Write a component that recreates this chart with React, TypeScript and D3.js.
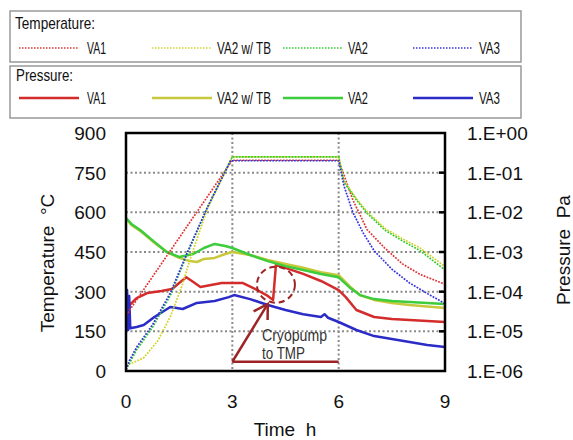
import React from 'react';
import * as d3 from 'd3';

// time in h, temperature in °C
const tempVA1 = [[0, 210], [3, 797], [6, 797], [6.1, 760], [6.4, 647], [6.8, 535], [7.3, 465], [7.8, 405], [8.3, 365], [9, 328]];
const tempVA2TB = [[0, 20], [0.5, 50], [0.9, 115], [1.25, 205], [1.6, 330], [1.8, 420], [2.3, 615], [3, 810], [6, 810], [6.15, 718], [6.5, 652], [6.8, 603], [7.3, 540], [7.8, 500], [8.3, 465], [9, 395]];
const tempVA2 = [[0, 5], [0.1, 30], [0.3, 80], [0.75, 165], [1.25, 285], [1.75, 450], [2.3, 620], [3, 810], [6, 810], [6.15, 715], [6.5, 647], [6.8, 597], [7.3, 533], [7.8, 492], [8.3, 455], [9, 382]];
const tempVA3 = [[0, 5], [0.1, 40], [0.3, 90], [0.75, 175], [1.25, 295], [1.75, 455], [2.3, 620], [2.95, 795], [6, 795], [6.15, 700], [6.4, 600], [6.7, 520], [7, 455], [7.5, 385], [8, 333], [8.5, 293], [9, 255]];

// time in h, pressure in Pa
const presVA1 = [[0, 1.9e-5], [0.03, 5.2e-5], [0.06, 2.6e-5], [0.1, 4.6e-5], [0.3, 6.9e-5], [0.6, 9.2e-5], [1, 1.04e-4], [1.3, 1.17e-4], [1.5, 1.65e-4], [1.7, 2.3e-4], [1.9, 1.75e-4], [2.1, 1.31e-4], [2.4, 1.47e-4], [2.7, 1.65e-4], [3, 1.65e-4], [3.3, 1.65e-4], [3.7, 1.1e-4], [4, 7.8e-5], [4.15, 6.2e-5], [4.23, 4.7e-4], [4.6, 3.7e-4], [5, 2.8e-4], [5.5, 1.86e-4], [6, 1.1e-4], [6.2, 7.3e-5], [6.5, 3.45e-5], [7, 2.3e-5], [7.5, 2.05e-5], [8, 1.93e-5], [8.5, 1.82e-5], [9, 1.72e-5]];
const presVA2TB = [[0, 7.2e-3], [0.15, 4.8e-3], [0.4, 3.4e-3], [0.8, 1.7e-3], [1.15, 1.0e-3], [1.5, 7.1e-4], [1.8, 5.9e-4], [2, 5.6e-4], [2.2, 6.7e-4], [2.5, 7.1e-4], [2.8, 8.9e-4], [3, 1.0e-3], [3.5, 8.4e-4], [4, 6.3e-4], [4.5, 5.0e-4], [5, 4.0e-4], [5.5, 3.1e-4], [6, 2.6e-4], [6.3, 1.39e-4], [6.6, 8.2e-5], [7, 6.2e-5], [7.5, 5.2e-5], [8, 4.6e-5], [8.5, 4.2e-5], [9, 3.9e-5]];
const presVA2 = [[0, 7.2e-3], [0.15, 5.1e-3], [0.4, 3.6e-3], [0.8, 1.8e-3], [1.15, 1.0e-3], [1.5, 7.5e-4], [1.9, 8.9e-4], [2.2, 1.26e-3], [2.5, 1.6e-3], [2.8, 1.42e-3], [3, 1.26e-3], [3.5, 8.4e-4], [4, 5.9e-4], [4.5, 4.4e-4], [5, 3.5e-4], [5.5, 2.8e-4], [6, 2.3e-4], [6.3, 1.3e-4], [6.6, 8.2e-5], [7, 6.5e-5], [7.5, 5.8e-5], [8, 5.5e-5], [8.5, 5.2e-5], [9, 4.9e-5]];
const presVA3 = [[0, 6.2e-5], [0.03, 1.1e-4], [0.06, 1.08e-5], [0.09, 7.8e-5], [0.12, 1.2e-5], [0.3, 1.29e-5], [0.5, 1.44e-5], [0.8, 2.3e-5], [1.25, 4.1e-5], [1.6, 3.66e-5], [2, 5.2e-5], [2.5, 5.8e-5], [2.9, 7.3e-5], [3.05, 8.2e-5], [3.5, 6.5e-5], [4, 4.6e-5], [4.5, 3.45e-5], [5, 2.7e-5], [5.5, 2.3e-5], [5.6, 2.7e-5], [5.7, 2.2e-5], [6, 1.72e-5], [6.5, 1.08e-5], [7, 7.6e-6], [7.5, 6.4e-6], [8, 5.4e-6], [8.5, 4.5e-6], [9, 4.0e-6]];

const seriesNames = ['VA1', 'VA2 w/ TB', 'VA2', 'VA3'];
const tempColors = ['#e03434', '#d2d22a', '#2ecc2e', '#3434dc'];
const presColors = ['#d42b2b', '#c8c83c', '#3ccc3c', '#2b2bc8'];

const timeTicks = [0, 3, 6, 9];
const tempTicks = [0, 150, 300, 450, 600, 750, 900];
const presTicks = [1e-6, 1e-5, 1e-4, 1e-3, 1e-2, 1e-1, 1];
const presTickLabels = ['1.E-06', '1.E-05', '1.E-04', '1.E-03', '1.E-02', '1.E-01', '1.E+00'];

const width = 573;
const height = 440;
const left = 126;
const right = 445;
const top = 133;
const bottom = 371;

const x = d3.scaleLinear().domain([0, 9]).range([left, right]);
const yT = d3.scaleLinear().domain([0, 900]).range([bottom, top]);
const yP = d3.scaleLog().domain([1e-6, 1]).range([bottom, top]);

const tempLine = d3.line().x(d => x(d[0])).y(d => yT(d[1]));
const presLine = d3.line().x(d => x(d[0])).y(d => yP(d[1]));

const font = '"Liberation Sans", Arial, sans-serif';
const annot = '#9c2424';

const legendX = [19, 152, 283, 413];
const legendTextX = [87, 217, 348, 479];
const legendTextW = [19, 54, 20, 21];

const App = () => {
  const temps = [tempVA1, tempVA2TB, tempVA2, tempVA3];
  const press = [presVA1, presVA2TB, presVA2, presVA3];

  // annotation anchors in data units
  const baseT = 35;
  const tip = [x(4.0), yP(4.9e-5)];
  const base = [x(3), yT(baseT)];
  const ang = Math.atan2(base[1] - tip[1], base[0] - tip[0]);
  const arm = 16;
  const a1 = [tip[0] + arm * Math.cos(ang - 0.54), tip[1] + arm * Math.sin(ang - 0.54)];
  const a2 = [tip[0] + arm * Math.cos(ang + 0.54), tip[1] + arm * Math.sin(ang + 0.54)];

  return (
    <svg width={width} height={height} style={{ position: 'absolute', left: 0, top: 0 }} fontFamily={font}>
      <rect width={width} height={height} fill="#fff" />

      {/* legend boxes */}
      <rect x={10} y={11} width={511} height={51} fill="#fff" stroke="#999" strokeWidth={1.5} />
      <rect x={10} y={66} width={511} height={52} fill="#fff" stroke="#999" strokeWidth={1.5} />
      <text x={15} y={29} fontSize={17} fill="#111" textLength={80} lengthAdjust="spacingAndGlyphs">Temperature:</text>
      <text x={16} y={81} fontSize={17} fill="#111" textLength={57} lengthAdjust="spacingAndGlyphs">Pressure:</text>
      {seriesNames.map((n, i) => (
        <g key={n}>
          <line x1={legendX[i]} x2={legendX[i] + 60} y1={48} y2={48} stroke={tempColors[i]} strokeWidth={1.5} strokeDasharray="1.5,1.5" />
          <text x={legendTextX[i]} y={54} fontSize={16} fill="#111" textLength={legendTextW[i]} lengthAdjust="spacingAndGlyphs">{n}</text>
          <line x1={legendX[i]} x2={legendX[i] + 60} y1={98} y2={98} stroke={presColors[i]} strokeWidth={2.5} />
          <text x={legendTextX[i]} y={104} fontSize={16} fill="#111" textLength={legendTextW[i]} lengthAdjust="spacingAndGlyphs">{n}</text>
        </g>
      ))}

      {/* grid */}
      {tempTicks.slice(1, -1).map(t => (
        <line key={t} x1={left} x2={right} y1={yT(t)} y2={yT(t)} stroke="#8a8a8a" strokeWidth={2} strokeDasharray="2,2.5" />
      ))}
      {[3, 6].map(t => (
        <line key={t} x1={x(t)} x2={x(t)} y1={top} y2={bottom} stroke="#8a8a8a" strokeWidth={2} strokeDasharray="2,2.5" />
      ))}

      <clipPath id="plot">
        <rect x={left} y={top} width={right - left} height={bottom - top} />
      </clipPath>
      <g clipPath="url(#plot)" fill="none">
        {press.map((p, i) => (
          <path key={'p' + i} d={presLine(p)} stroke={presColors[i]} strokeWidth={2.5} strokeLinejoin="round" />
        ))}
        {temps.map((t, i) => (
          <path key={'t' + i} d={tempLine(t)} stroke={tempColors[i]} strokeWidth={1.7} strokeDasharray="1.8,1.3" />
        ))}
      </g>

      {/* annotation */}
      <ellipse cx={x(4.23)} cy={yP(1.5e-4)} rx={19} ry={18} fill="none" stroke={annot} strokeWidth={2} strokeDasharray="6,4" />
      <line x1={base[0]} y1={base[1]} x2={x(6)} y2={base[1]} stroke={annot} strokeWidth={2.5} />
      <line x1={base[0]} y1={base[1]} x2={tip[0]} y2={tip[1]} stroke={annot} strokeWidth={2.5} />
      <polyline points={`${a1[0]},${a1[1]} ${tip[0]},${tip[1]} ${a2[0]},${a2[1]}`} fill="none" stroke={annot} strokeWidth={2.5} />
      <text x={262} y={341} fontSize={17} fill="#333" textLength={65} lengthAdjust="spacingAndGlyphs">Cryopump</text>
      <text x={262} y={359} fontSize={17} fill="#333" textLength={43} lengthAdjust="spacingAndGlyphs">to TMP</text>

      {/* frame */}
      <rect x={left} y={top} width={right - left} height={bottom - top} fill="none" stroke="#000" strokeWidth={2.5} />
      {presTicks.slice(1, -1).map(p => (
        <line key={p} x1={right - 6} x2={right} y1={yP(p)} y2={yP(p)} stroke="#000" strokeWidth={2.5} />
      ))}

      {/* axes labels */}
      {tempTicks.map(t => (
        <text key={t} x={106} y={yT(t)} dy="0.36em" fontSize={19} textAnchor="end" fill="#111">{t}</text>
      ))}
      {presTicks.map((p, i) => (
        <text key={p} x={467} y={yP(p)} dy="0.36em" fontSize={19} fill="#111">{presTickLabels[i]}</text>
      ))}
      {timeTicks.map(t => (
        <text key={t} x={x(t)} y={408} fontSize={19} textAnchor="middle" fill="#111">{t}</text>
      ))}
      <text x={285} y={436} fontSize={19} textAnchor="middle" fill="#111" style={{ whiteSpace: 'pre' }}>Time  h</text>
      <text transform="translate(54,263) rotate(-90)" fontSize={19} textAnchor="middle" fill="#111" style={{ whiteSpace: 'pre' }}>Temperature  °C</text>
      <text transform="translate(570,250) rotate(-90)" fontSize={19} textAnchor="middle" fill="#111" style={{ whiteSpace: 'pre' }}>Pressure  Pa</text>
    </svg>
  );
};

export default App;
